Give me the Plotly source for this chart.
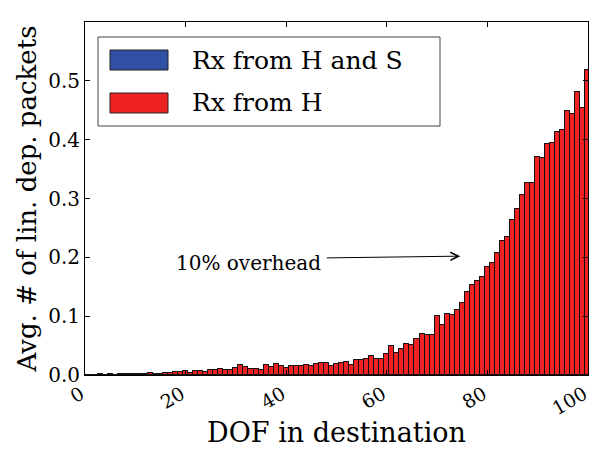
import plotly.graph_objects as go

# DOF in destination (bar centres)
dof = list(range(0, 101))

# Avg. # of linearly dependent packets, received from H (red, drawn on top)
rx_h = [
    0.0, 0.0005, 0.0005, 0.001, 0.0005, 0.002, 0.0005, 0.001, 0.001, 0.002,
    0.001, 0.002, 0.001, 0.003, 0.001, 0.002, 0.004, 0.004, 0.005, 0.005,
    0.0074, 0.004, 0.0074, 0.0074, 0.0045, 0.009, 0.008, 0.011, 0.009, 0.009,
    0.0125, 0.0176, 0.0136, 0.0096, 0.011, 0.009, 0.017, 0.0142, 0.019, 0.0155,
    0.012, 0.015, 0.015, 0.0147, 0.0164, 0.016, 0.0187, 0.0204, 0.021, 0.016,
    0.0182, 0.0204, 0.0221, 0.0176, 0.0261, 0.025, 0.0278, 0.0318, 0.0272, 0.0278,
    0.0352, 0.0485, 0.0378, 0.045, 0.0525, 0.0517, 0.0614, 0.0699, 0.0688, 0.0688,
    0.100, 0.0852, 0.104, 0.102, 0.111, 0.123, 0.141, 0.153, 0.159, 0.166,
    0.183, 0.190, 0.208, 0.228, 0.234, 0.263, 0.283, 0.306, 0.327, 0.326,
    0.371, 0.368, 0.392, 0.394, 0.413, 0.417, 0.449, 0.444, 0.481, 0.453,
    0.519,
]
# Received from H and S (blue) – completely hidden behind the red bars
rx_hs = list(rx_h)

series_names = ["Rx from H and S", "Rx from H"]
series_colors = ["#3050a4", "#ee2222"]

x_ticks = [0, 20, 40, 60, 80, 100]
y_ticks = [0.0, 0.1, 0.2, 0.3, 0.4, 0.5]
y_tick_text = ["0.0", "0.1", "0.2", "0.3", "0.4", "0.5"]

FONT = "DejaVu Serif"

fig = go.Figure()
for name, vals, col in zip(series_names, [rx_hs, rx_h], series_colors):
    fig.add_trace(go.Bar(
        x=dof, y=vals, name=name, width=1.0,
        marker=dict(color=col, line=dict(color="#111111", width=1)),
        showlegend=False,
    ))

fig.update_layout(
    width=591, height=449,
    margin=dict(l=85, r=3, t=22, b=74),
    paper_bgcolor="white", plot_bgcolor="white",
    barmode="overlay", bargap=0,
    font=dict(family=FONT, color="black"),
)

fig.update_xaxes(
    range=[0, 100], tickvals=x_ticks, ticktext=[str(t) for t in x_ticks],
    tickangle=-30, ticks="inside", ticklen=5, tickcolor="black",
    ticklabeloverflow="allow", automargin=False, ticklabelshift=-4,
    showline=True, linecolor="black", linewidth=1, mirror="ticks",
    showgrid=False, zeroline=False,
    tickfont=dict(family=FONT, size=19),
    title=dict(text="DOF in destination", font=dict(family=FONT, size=27), standoff=4),
)
fig.update_yaxes(
    range=[0, 0.6], tickvals=y_ticks, ticktext=y_tick_text,
    ticks="inside", ticklen=5, tickcolor="black", automargin=False,
    showline=True, linecolor="black", linewidth=1, mirror="ticks",
    showgrid=False, zeroline=False,
    tickfont=dict(family=FONT, size=20),
    title=dict(text="Avg. # of lin. dep. packets", font=dict(family=FONT, size=26), standoff=4),
)

# Hand-built legend (matplotlib style, wide patches)
def px_x(p):
    return (p - 85) / (591 - 85 - 3)

def px_y(p):
    return 1 - (p - 22) / (449 - 22 - 74)

fig.add_shape(type="rect", xref="paper", yref="paper",
              x0=px_x(98), x1=px_x(440), y0=px_y(126), y1=px_y(37),
              line=dict(color="#444444", width=1), fillcolor="white", layer="above")
for i, (name, col) in enumerate(zip(series_names, series_colors)):
    top = 50 + i * 43
    fig.add_shape(type="rect", xref="paper", yref="paper",
                  x0=px_x(110), x1=px_x(168), y0=px_y(top + 20), y1=px_y(top),
                  line=dict(color="#222222", width=1), fillcolor=col, layer="above")
    fig.add_annotation(xref="paper", yref="paper", x=px_x(190), y=px_y(top + 10),
                       text=name, showarrow=False, xanchor="left", yanchor="middle",
                       font=dict(family=FONT, size=25, color="black"))

# "10% overhead" annotation with arrow
fig.add_annotation(x=47.3, y=0.19, xref="x", yref="y", text="10% overhead",
                   showarrow=False, xanchor="right",
                   font=dict(family=FONT, size=20, color="black"))
fig.add_annotation(x=74.6, y=0.202, ax=47.8, ay=0.199, xref="x", yref="y",
                   axref="x", ayref="y", text="", showarrow=True,
                   arrowhead=5, arrowsize=1.6, arrowwidth=1, arrowcolor="black")

fig.write_html("out.html")
